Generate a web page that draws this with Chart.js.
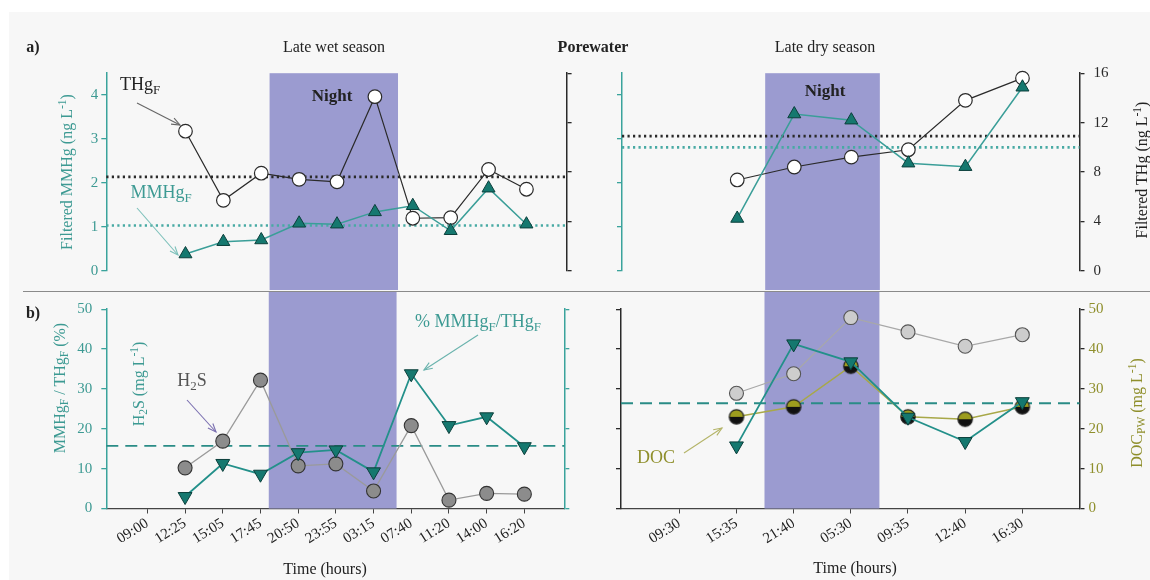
<!DOCTYPE html>
<html>
<head>
<meta charset="utf-8">
<script src="https://cdn.jsdelivr.net/npm/chart.js@4.4.1/dist/chart.umd.min.js"></script>
<style>
body{margin:0;width:1150px;height:580px;background:#fff;position:relative;overflow:hidden;font-family:'Liberation Serif',serif;}
#bg{position:absolute;left:9px;top:12px;right:0;bottom:0;background:#f7f7f7;}
canvas{position:absolute;}
#sep{position:absolute;left:23px;right:0;top:291px;height:1px;background:#8a8a8a;z-index:3;}
svg{position:absolute;left:0;top:0;z-index:4;}
.t{position:absolute;white-space:nowrap;font-size:16px;color:#222;line-height:1;z-index:5;transform:translate(-50%,-50%);}
.rot{transform:translate(-50%,-50%) rotate(-90deg);}
.teal{color:#3d9a93;}
.olive{color:#8f8f2c;}
.b{font-weight:bold;}
sub{font-size:72%;vertical-align:-0.3em;line-height:0;}
sup{font-size:72%;vertical-align:0.5em;line-height:0;}
</style>
</head>
<body>
<div id="bg"></div>
<canvas id="wetTop" width="600" height="230" style="left:0;top:60px"></canvas>
<canvas id="dryTop" width="550" height="235" style="left:600px;top:55px"></canvas>
<canvas id="wetBot" width="600" height="289" style="left:0;top:291px"></canvas>
<canvas id="dryBot" width="550" height="289" style="left:600px;top:291px"></canvas>
<div id="sep"></div>
<svg id="arrows" width="1150" height="580"></svg>

<div class="t b" style="left:33px;top:47px">a)</div>
<div class="t" style="left:334px;top:47px">Late wet season</div>
<div class="t b" style="left:593px;top:47px">Porewater</div>
<div class="t" style="left:825px;top:47px">Late dry season</div>
<div class="t b" style="left:33px;top:313px">b)</div>

<div class="t b" style="left:332px;top:95px;font-size:17px">Night</div>
<div class="t b" style="left:825px;top:90px;font-size:17px">Night</div>

<div class="t rot teal" style="left:67px;top:172px">Filtered MMHg (ng L<sup>-1</sup>)</div>
<div class="t rot" style="left:1142px;top:170px">Filtered THg (ng L<sup>-1</sup>)</div>
<div class="t rot teal" style="left:60px;top:388px">MMHg<sub>F</sub> / THg<sub>F</sub> (%)</div>
<div class="t rot teal" style="left:139px;top:384px">H<sub>2</sub>S (mg L<sup>-1</sup>)</div>
<div class="t rot olive" style="left:1137px;top:413px">DOC<sub>PW</sub> (mg L<sup>-1</sup>)</div>
<div class="t" style="left:325px;top:569px">Time (hours)</div>
<div class="t" style="left:855px;top:568px">Time (hours)</div>

<div class="t" style="left:140px;top:84px;font-size:18px">THg<sub>F</sub></div>
<div class="t teal" style="left:161px;top:192px;font-size:18px">MMHg<sub>F</sub></div>
<div class="t" style="left:192px;top:380px;font-size:18px;color:#555">H<sub>2</sub>S</div>
<div class="t teal" style="left:478px;top:321px;font-size:18px">% MMHg<sub>F</sub>/THg<sub>F</sub></div>
<div class="t olive" style="left:656px;top:457px;font-size:18px">DOC</div>

<script>
// sampling times (index 0 = start of the time axis, no sample)
const wetTimes = ['09:00', '12:25', '15:05', '17:45', '20:50', '23:55', '03:15', '07:40', '11:20', '14:00', '16:20'];
const dryTimes = ['09:30', '15:35', '21:40', '05:30', '09:35', '12:40', '16:30'];

// a) filtered THg (ng/L, right axis) and MMHg (ng/L, left axis)
const wetTHg = [null, 11.3, 5.7, 7.9, 7.4, 7.2, 14.1, 4.25, 4.3, 8.2, 6.6];
const wetMMHg = [null, 0.38, 0.66, 0.7, 1.08, 1.06, 1.34, 1.48, 0.91, 1.88, 1.06];
const dryTHg = [null, 7.35, 8.4, 9.2, 9.8, 13.8, 15.6];
const dryMMHg = [null, 1.19, 3.57, 3.43, 2.45, 2.37, 4.18];
const meanTHg = [7.6, 10.9];   // wet, dry
const meanMMHg = [1.03, 2.81];

// b) % MMHg/THg, H2S (mg/L), DOC (mg/L)
const wetPct = [null, 3.0, 11.3, 8.6, 14.0, 14.7, 9.2, 33.8, 20.8, 23.0, 15.5];
const wetH2S = [null, 10.2, 16.9, 32.2, 10.7, 11.2, 4.4, 20.8, 2.1, 3.8, 3.6];
const dryPct = [null, 15.7, 41.3, 36.8, 22.9, 16.8, 26.8];
const dryH2S = [null, 28.9, 33.8, 47.9, 44.3, 40.7, 43.6];
const dryDOC = [null, 23.0, 25.5, 35.7, 23.0, 22.4, 25.5];
const meanPct = [15.7, 26.4];

// night periods in time-axis units
const wetNight = [3.22, 6.61];
const dryNight = [1.49, 3.5];

const F = 'Liberation Serif';
const TEAL = '#3aa39c';
const TEAL_TXT = '#3d9a93';
const OLIVE = '#8f8f2c';
const DARK = '#2a2a2a';

function pts(arr) {
  return arr.map((v, i) => ({x: i, y: v})).filter(p => p.y !== null);
}
function hline(v, min, max) {
  return [{x: min, y: v}, {x: max, y: v}];
}

// half olive / half black marker for DOC
const docMark = document.createElement('canvas');
docMark.width = 18; docMark.height = 18;
(function () {
  const c = docMark.getContext('2d');
  c.beginPath(); c.arc(9, 9, 7.2, Math.PI, 0); c.closePath(); c.fillStyle = '#9d9d1e'; c.fill();
  c.beginPath(); c.arc(9, 9, 7.2, 0, Math.PI); c.closePath(); c.fillStyle = '#111'; c.fill();
  c.beginPath(); c.arc(9, 9, 7.2, 0, 2 * Math.PI); c.strokeStyle = '#222'; c.lineWidth = 1.2; c.stroke();
})();

const nightBand = {
  id: 'nightBand',
  beforeDatasetsDraw(chart, args, o) {
    const ctx = chart.ctx, a = chart.chartArea, x = chart.scales.x;
    const x0 = x.getPixelForValue(o.from), x1 = x.getPixelForValue(o.to);
    const top = o.fromEdge ? 0 : a.top;
    const bottom = o.toEdge ? chart.height : a.bottom;
    ctx.save();
    ctx.fillStyle = '#9b9bd0';
    ctx.fillRect(x0, top, x1 - x0, bottom - top);
    ctx.restore();
  }
};

function xScale(times, min, max, show) {
  return {
    type: 'linear', min: min, max: max, display: show,
    afterBuildTicks: s => { s.ticks = times.map((t, i) => ({value: i})); },
    afterFit: s => { s.height = show ? 71.5 : 0; },
    ticks: {autoSkip: false, minRotation: 32, maxRotation: 32, padding: 1, color: '#222',
      font: {family: F, size: 15}, callback: v => times[v]},
    grid: {drawOnChartArea: false, drawTicks: true, tickLength: 5, color: '#444'},
    border: {color: '#444', width: 1.2}
  };
}

function yScale(pos, max, step, width, lineColor, labelColor, showLabels, pad) {
  const vals = [];
  for (let v = 0; v <= max + 1e-9; v += step) vals.push(v);
  return {
    type: 'linear', position: pos, min: 0, max: max,
    afterBuildTicks: s => { s.ticks = vals.map(v => ({value: v})); },
    afterFit: s => { s.width = width; },
    ticks: {display: showLabels, color: labelColor, padding: pad, font: {family: F, size: 15}},
    grid: {drawOnChartArea: false, drawTicks: true, tickLength: 5, color: lineColor, lineWidth: 1.3},
    border: {color: lineColor, width: 1.5}
  };
}

function baseOptions(scales, band, padding) {
  return {
    responsive: false, animation: false, devicePixelRatio: 1,
    layout: {padding: padding},
    datasets: {line: {clip: false}},
    plugins: {legend: {display: false}, tooltip: {enabled: false}, nightBand: band},
    scales: scales
  };
}

function thgSet(arr) {
  return {data: pts(arr), yAxisID: 'y2', order: 1, borderColor: DARK, borderWidth: 1.2,
    pointRadius: 6.8, pointBackgroundColor: '#fff', pointBorderColor: DARK, pointBorderWidth: 1.2};
}
function mmhgSet(arr) {
  return {data: pts(arr), yAxisID: 'y', order: 0, borderColor: '#3a9e98', borderWidth: 1.5,
    pointStyle: 'triangle', pointRadius: 7.5, pointBackgroundColor: '#15786f',
    pointBorderColor: '#0b3f3b', pointBorderWidth: 1};
}
function pctSet(arr) {
  return {data: pts(arr), yAxisID: 'y', order: 0, borderColor: '#23908a', borderWidth: 1.8,
    pointStyle: 'triangle', pointRotation: 180, pointRadius: 8, pointBackgroundColor: '#15786f',
    pointBorderColor: '#0b3f3b', pointBorderWidth: 1};
}
function refSet(v, min, max, axis, color, dash, w) {
  return {data: hline(v, min, max), yAxisID: axis, order: 3, borderColor: color, borderWidth: w,
    borderDash: dash, pointRadius: 0};
}

// a) wet season
new Chart(document.getElementById('wetTop'), {
  type: 'line',
  data: {datasets: [
    mmhgSet(wetMMHg),
    thgSet(wetTHg),
    refSet(meanTHg[0], -1.09, 11.06, 'y2', DARK, [2.2, 3.3], 2.6),
    refSet(meanMMHg[0], -1.09, 11.06, 'y', '#48aaa4', [2.2, 3.3], 2.6)
  ]},
  options: baseOptions({
    x: xScale(wetTimes, -1.09, 11.06, false),
    y: yScale('left', 4.5, 1, 106.3, TEAL, TEAL_TXT, true, 3),
    y2: yScale('right', 16, 4, 33.4, DARK, DARK, false, 3)
  }, {from: wetNight[0], to: wetNight[1], toEdge: true}, {top: 13.2, bottom: 19.3, left: 0, right: 0}),
  plugins: [nightBand]
});

// a) dry season
new Chart(document.getElementById('dryTop'), {
  type: 'line',
  data: {datasets: [
    mmhgSet(dryMMHg),
    thgSet(dryTHg),
    refSet(meanTHg[1], -1.02, 7.0, 'y2', DARK, [2.2, 3.3], 2.6),
    refSet(meanMMHg[1], -1.02, 7.0, 'y', '#48aaa4', [2.2, 3.3], 2.6)
  ]},
  options: baseOptions({
    x: xScale(dryTimes, -1.02, 7.0, false),
    y: yScale('left', 4.5, 1, 22, TEAL, TEAL_TXT, false, 3),
    y2: yScale('right', 16, 4, 70.5, DARK, DARK, true, 9)
  }, {from: dryNight[0], to: dryNight[1], toEdge: true}, {top: 18.2, bottom: 19.3, left: 0, right: 0}),
  plugins: [nightBand]
});

// b) wet season
new Chart(document.getElementById('wetBot'), {
  type: 'line',
  data: {datasets: [
    pctSet(wetPct),
    {data: pts(wetH2S), yAxisID: 'y', order: 1, borderColor: '#9a9a9a', borderWidth: 1.3,
      pointRadius: 7, pointBackgroundColor: '#8c8c8c', pointBorderColor: '#333', pointBorderWidth: 1.1},
    refSet(meanPct[0], -1.09, 11.06, 'y', '#2a8c86', [12, 7], 1.8)
  ]},
  options: baseOptions({
    x: xScale(wetTimes, -1.09, 11.06, true),
    y: yScale('left', 50, 10, 106.3, TEAL, TEAL_TXT, true, 9),
    y2: yScale('right', 50, 10, 35.7, TEAL, TEAL_TXT, false, 3)
  }, {from: wetNight[0], to: wetNight[1], fromEdge: true}, {top: 18.2, bottom: 0, left: 0, right: 0}),
  plugins: [nightBand]
});

// b) dry season
new Chart(document.getElementById('dryBot'), {
  type: 'line',
  data: {datasets: [
    pctSet(dryPct),
    {data: pts(dryDOC), yAxisID: 'y2', order: 1, borderColor: '#a8a848', borderWidth: 1.5,
      pointStyle: docMark, pointRadius: 7},
    {data: pts(dryH2S), yAxisID: 'y', order: 2, borderColor: '#a8a8a8', borderWidth: 1.2,
      pointRadius: 7, pointBackgroundColor: '#cdcdcd', pointBorderColor: '#555', pointBorderWidth: 1.1},
    refSet(meanPct[1], -1.02, 7.0, 'y', '#2a8c86', [12, 7], 1.8)
  ]},
  options: baseOptions({
    x: xScale(dryTimes, -1.02, 7.0, true),
    y: yScale('left', 50, 10, 21, DARK, DARK, false, 3),
    y2: yScale('right', 50, 10, 70.5, DARK, OLIVE, true, 4)
  }, {from: dryNight[0], to: dryNight[1], fromEdge: true}, {top: 18.2, bottom: 0, left: 0, right: 0}),
  plugins: [nightBand]
});

// annotation arrows
const arrows = [
  [137, 103, 180, 125, '#666'],
  [137, 208, 178, 255, '#7cc0ba'],
  [187, 400, 216, 432, '#7a6fb0'],
  [478, 335, 424, 370, '#6ab3ad'],
  [684, 453, 722, 428, '#b4b468']
];
const svg = document.getElementById('arrows');
arrows.forEach(a => {
  const [x1, y1, x2, y2, col] = a;
  const ang = Math.atan2(y2 - y1, x2 - x1);
  const h = 9, sp = 0.38;
  const hx1 = x2 - h * Math.cos(ang - sp), hy1 = y2 - h * Math.sin(ang - sp);
  const hx2 = x2 - h * Math.cos(ang + sp), hy2 = y2 - h * Math.sin(ang + sp);
  svg.innerHTML += '<line x1="' + x1 + '" y1="' + y1 + '" x2="' + x2 + '" y2="' + y2 + '" stroke="' + col + '" stroke-width="1.1"/>' +
    '<polyline points="' + hx1 + ',' + hy1 + ' ' + x2 + ',' + y2 + ' ' + hx2 + ',' + hy2 + '" fill="none" stroke="' + col + '" stroke-width="1.1"/>';
});
</script>
</body>
</html>
